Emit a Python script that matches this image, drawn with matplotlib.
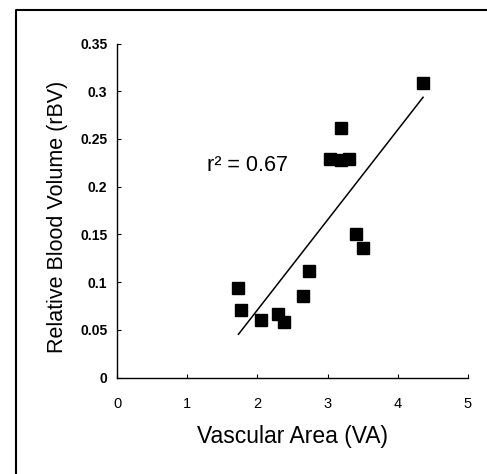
import numpy as np
import matplotlib
matplotlib.use('Agg')
import matplotlib.pyplot as plt
from matplotlib.lines import Line2D

plt.rcParams['font.family'] = ['Liberation Sans', 'DejaVu Sans']

# values
va = [1.73, 1.76, 2.05, 2.30, 2.38, 2.65, 2.73, 3.04, 3.19, 3.19, 3.31, 3.41, 3.50, 4.36]
rbv = [0.0935, 0.0705, 0.060, 0.0665, 0.058, 0.0855, 0.112, 0.2295, 0.261, 0.2275, 0.2295, 0.150, 0.1355, 0.309]
x_ticks = [0, 1, 2, 3, 4, 5]
y_ticks = [0, 0.05, 0.1, 0.15, 0.2, 0.25, 0.3, 0.35]
y_labels = ['0', '0.05', '0.1', '0.15', '0.2', '0.25', '0.3', '0.35']
r2_text = 'r\u00b2 = 0.67'

fig = plt.figure(figsize=(4.87, 4.74), dpi=100)
ax = fig.add_axes([117 / 487, 1 - 377.7 / 474, 351 / 487, 334.2 / 474])

ax.plot(va, rbv, 's', color='black', markersize=8)

# least squares line over the data range
k, b = np.polyfit(va, rbv, 1)
xs = np.array([min(va), max(va)])
ax.plot(xs, k * xs + b, color='black', linewidth=1.1)

ax.text(1.28, 0.222, r2_text, fontsize=15.5, va='center', ha='left')

ax.set_xlim(0, 5)
ax.set_ylim(0, 0.35)
ax.set_xticks(x_ticks)
ax.set_yticks(y_ticks)
ax.set_yticklabels(y_labels, fontweight='bold')
ax.tick_params(axis='x', direction='in', length=3, width=0.8, pad=14, labelsize=10.5)
ax.tick_params(axis='y', direction='in', length=3, width=0.8, pad=7, labelsize=10)
for side in ['top', 'right']:
    ax.spines[side].set_visible(False)
for side in ['left', 'bottom']:
    ax.spines[side].set_linewidth(1.0)

ax.set_xlabel('Vascular Area (VA)', fontsize=16.5)
ax.set_ylabel('Relative Blood Volume (rBV)', fontsize=15.5)
ax.xaxis.set_label_coords(0.5, -0.143)
ax.yaxis.set_label_coords(-0.1396, 0.48)

# frame around the figure (left and top edges only visible)
fig.add_artist(Line2D([15.5 / 487, 15.5 / 487, 1], [0, 1 - 9.5 / 474, 1 - 9.5 / 474],
                      transform=fig.transFigure, color='black', linewidth=1.5))

fig.savefig('out.png', dpi=100)
